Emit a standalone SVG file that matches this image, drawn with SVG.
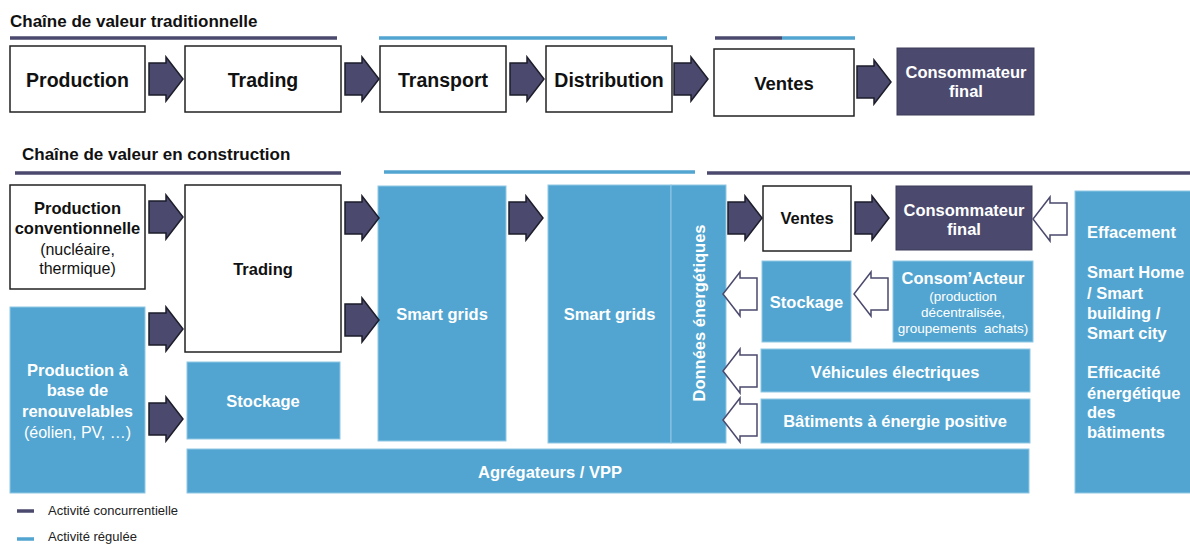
<svg xmlns="http://www.w3.org/2000/svg" xmlns:xlink="http://www.w3.org/1999/xlink" width="1190" height="544" viewBox="0 0 1190 544">
<style>
text{font-family:"Liberation Sans",Arial,sans-serif}
.b{font-weight:bold}
.c{text-anchor:middle}
.w{fill:#ffffff}
.k{fill:#111111}
.wb{fill:#ffffff;stroke:#222222;stroke-width:1.5}
.dk{fill:#4b4a6e;stroke:#3a3a58;stroke-width:1}
.bl{fill:#52a5d0;stroke:#8fc8e6;stroke-width:1}
.ld{stroke:#4b4a6e;stroke-width:3.5}
.ll{stroke:#52a5d0;stroke-width:3.5}
</style>
<defs>
<path id="af" d="M0,6H17V0L34,22L17,44V38H0Z" fill="#4b4a6e" stroke="#1d1d2b" stroke-width="1.5" stroke-linejoin="miter"/>
<path id="ah" d="M34,6H17V0L0,22L17,44V38H34Z" fill="#ffffff" stroke="#4b4a6e" stroke-width="1.5"/>
</defs>
<rect width="1190" height="544" fill="#ffffff"/>

<g id="titles">
<text class="b k" x="10" y="27" font-size="17">Chaîne de valeur traditionnelle</text>
<text class="b k" x="22" y="160" font-size="17">Chaîne de valeur en construction</text>
</g>

<g id="bars">
<line class="ld" x1="10" y1="38" x2="337" y2="38"/>
<line class="ll" x1="379" y1="38" x2="667" y2="38"/>
<line class="ld" x1="715" y1="38" x2="782" y2="38"/>
<line class="ll" x1="782" y1="38" x2="855" y2="38"/>
<line class="ld" x1="15" y1="173" x2="341" y2="173"/>
<line class="ll" x1="384" y1="172" x2="695" y2="172"/>
<line class="ld" x1="707" y1="173" x2="1190" y2="173"/>
</g>

<g id="t-production">
<rect class="wb" x="10" y="46" width="135" height="66"/>
<text class="b c k" x="77.5" y="87" font-size="19.5">Production</text>
</g>
<g id="t-trading">
<rect class="wb" x="185" y="46" width="156" height="66"/>
<text class="b c k" x="263" y="87" font-size="19.5">Trading</text>
</g>
<g id="t-transport">
<rect class="wb" x="380" y="46" width="126" height="66"/>
<text class="b c k" x="443" y="87" font-size="19.5">Transport</text>
</g>
<g id="t-distribution">
<rect class="wb" x="546" y="46" width="126" height="66"/>
<text class="b c k" x="609" y="87" font-size="19.5">Distribution</text>
</g>
<g id="t-ventes">
<rect class="wb" x="714" y="49" width="140" height="67"/>
<text class="b c k" x="784" y="90" font-size="18.5">Ventes</text>
</g>
<g id="t-consommateur">
<rect class="dk" x="897" y="48" width="137" height="67"/>
<text class="b c w" x="966" y="78" font-size="16.5">Consommateur</text>
<text class="b c w" x="966" y="97" font-size="16.5">final</text>
</g>

<g id="b-prod-conv">
<rect class="wb" x="10" y="185" width="135" height="104"/>
<text class="b c k" x="77.5" y="214" font-size="16.5">Production</text>
<text class="b c k" x="77.5" y="234" font-size="16.5">conventionnelle</text>
<text class="c k" x="77.5" y="255" font-size="16">(nucléaire,</text>
<text class="c k" x="77.5" y="274" font-size="16">thermique)</text>
</g>
<g id="b-prod-renouv">
<rect class="bl" x="10" y="307" width="135" height="186"/>
<text class="b c w" x="77.5" y="376" font-size="16.5">Production à</text>
<text class="b c w" x="77.5" y="396" font-size="16.5">base de</text>
<text class="b c w" x="77.5" y="417" font-size="16.5">renouvelables</text>
<text class="c w" x="77.5" y="438" font-size="16">(éolien, PV, …)</text>
</g>
<g id="b-trading">
<rect class="wb" x="185" y="185" width="156" height="167"/>
<text class="b c k" x="263" y="275" font-size="16.5">Trading</text>
</g>
<g id="b-stockage-1">
<rect class="bl" x="187" y="362" width="153" height="77"/>
<text class="b c w" x="263" y="407" font-size="16.5">Stockage</text>
</g>
<g id="b-agregateurs">
<rect class="bl" x="187" y="449" width="842" height="44"/>
<text class="b c w" x="550" y="478" font-size="16.5">Agrégateurs / VPP</text>
</g>
<g id="b-smartgrids-1">
<rect class="bl" x="378" y="186" width="128" height="255"/>
<text class="b c w" x="442" y="320" font-size="16.5">Smart grids</text>
</g>
<g id="b-smartgrids-2">
<rect class="bl" x="548" y="185" width="123" height="258"/>
<text class="b c w" x="609.5" y="320" font-size="16.5">Smart grids</text>
</g>
<g id="b-donnees">
<rect class="bl" x="671" y="185" width="55" height="258"/>
<text class="b c w" font-size="16.5" transform="translate(705,313) rotate(-90)">Données énergétiques</text>
</g>
<g id="b-ventes">
<rect class="wb" x="763" y="186" width="88" height="65"/>
<text class="b c k" x="807" y="224" font-size="16.5">Ventes</text>
</g>
<g id="b-consommateur">
<rect class="dk" x="896" y="186" width="136" height="64"/>
<text class="b c w" x="964" y="216" font-size="16.5">Consommateur</text>
<text class="b c w" x="964" y="235" font-size="16.5">final</text>
</g>
<g id="b-stockage-2">
<rect class="bl" x="762" y="261" width="89" height="81"/>
<text class="b c w" x="806.5" y="308" font-size="16.5">Stockage</text>
</g>
<g id="b-consomacteur">
<rect class="bl" x="893" y="261" width="140" height="81"/>
<text class="b c w" x="963" y="284" font-size="16.5">Consom’Acteur</text>
<text class="c w" x="963" y="301" font-size="13.5">(production</text>
<text class="c w" x="963" y="317" font-size="13.5">décentralisée,</text>
<text class="c w" x="963" y="333" font-size="13.5" xml:space="preserve">groupements  achats)</text>
</g>
<g id="b-vehicules">
<rect class="bl" x="761" y="349" width="269" height="43"/>
<text class="b c w" x="895" y="378" font-size="16.5">Véhicules électriques</text>
</g>
<g id="b-batiments">
<rect class="bl" x="761" y="399" width="269" height="44"/>
<text class="b c w" x="895" y="427" font-size="16.5">Bâtiments à énergie positive</text>
</g>
<g id="b-effacement">
<rect class="bl" x="1075" y="191" width="120" height="302"/>
<text class="b w" x="1087" y="238" font-size="16.5">Effacement</text>
<text class="b w" x="1087" y="278" font-size="16.5">Smart Home</text>
<text class="b w" x="1087" y="299" font-size="16.5">/ Smart</text>
<text class="b w" x="1087" y="319" font-size="16.5">building /</text>
<text class="b w" x="1087" y="339" font-size="16.5">Smart city</text>
<text class="b w" x="1087" y="378" font-size="16.5">Efficacité</text>
<text class="b w" x="1087" y="399" font-size="16.5">énergétique</text>
<text class="b w" x="1087" y="418" font-size="16.5">des</text>
<text class="b w" x="1087" y="438" font-size="16.5">bâtiments</text>
</g>

<g id="connectors">
<use xlink:href="#af" x="149" y="57"/>
<use xlink:href="#af" x="345" y="57"/>
<use xlink:href="#af" x="510" y="57"/>
<use xlink:href="#af" x="674" y="57"/>
<use xlink:href="#af" x="857" y="60"/>
<use xlink:href="#af" x="149" y="195"/>
<use xlink:href="#af" x="149" y="307"/>
<use xlink:href="#af" x="345" y="196"/>
<use xlink:href="#af" x="345" y="298"/>
<use xlink:href="#af" x="149" y="397"/>
<use xlink:href="#af" x="509" y="196"/>
<use xlink:href="#af" x="728" y="196"/>
<use xlink:href="#af" x="855" y="196"/>
<use xlink:href="#ah" x="1033" y="197"/>
<use xlink:href="#ah" x="723" y="272"/>
<use xlink:href="#ah" x="854" y="272"/>
<use xlink:href="#ah" x="723" y="349"/>
<use xlink:href="#ah" x="723" y="398"/>
</g>

<g id="legend">
<line class="ld" x1="17" y1="511" x2="34" y2="511"/>
<text x="48" y="515" font-size="13" fill="#222222">Activité  concurrentielle</text>
<line class="ll" x1="17" y1="539" x2="34" y2="539"/>
<text x="48" y="541" font-size="13" fill="#222222">Activité  régulée</text>
</g>
</svg>
